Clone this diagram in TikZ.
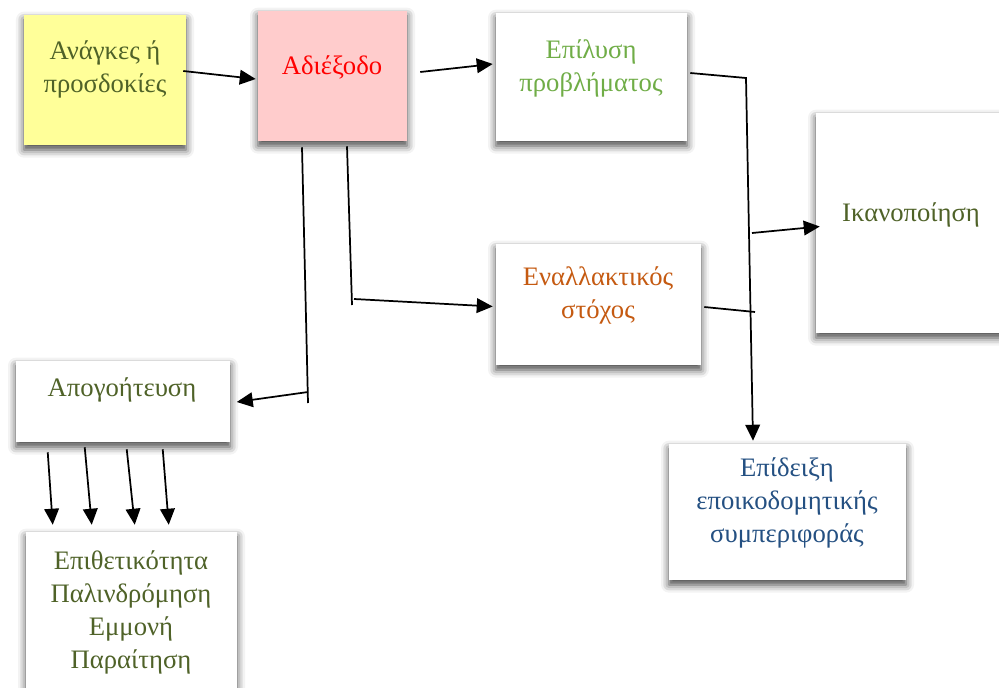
\documentclass[tikz,border=0pt]{standalone}
\usepackage{fontspec}
\setmainfont{Liberation Serif}
\usetikzlibrary{arrows.meta, calc, shadows.blur}
\definecolor{verdeosc}{HTML}{4F6228}
\definecolor{verdecl}{HTML}{70AD47}
\definecolor{naranja}{HTML}{C55A11}
\definecolor{azulosc}{HTML}{245082}
\definecolor{amarillo}{HTML}{FFFF99}
\definecolor{rosa}{HTML}{FFCCCC}
\tikzset{
  caja/.style={rectangle, draw=none, fill=white, inner sep=0pt,
               blur shadow={shadow xshift=0pt, shadow yshift=-3.5pt, shadow blur radius=6pt, shadow opacity=75}},
  texto/.style={align=center, font=\fontsize{20}{24.75}\selectfont, text=verdeosc},
  linea/.style={line width=1.3pt, color=black},
  flecha/.style={line width=1.3pt, color=black, -{Triangle[length=12pt,width=11pt]}}
}

\begin{document}
\begin{tikzpicture}[x=0.75pt, y=-0.75pt]
  \useasboundingbox (0,0) rectangle (999,688);
  % cajas
  \node (anag) [caja, fill=amarillo, minimum width=121.5pt, minimum height=97.5pt] at (105,80) {};
  \node at (105,69) [texto] {Ανάγκες ή\\ προσδοκίες};
  \node (adi) [caja, fill=rosa, minimum width=111.75pt, minimum height=97.5pt] at (332.5,76) {};
  \node at (332,67) [texto, text=red] {Αδιέξοδο};
  \node (epil) [caja, minimum width=143.25pt, minimum height=96pt] at (591.5,77) {};
  \node at (591,68) [texto, text=verdecl] {Επίλυση\\ προβλήματος};
  \node (enal) [caja, minimum width=153.75pt, minimum height=90.75pt] at (598.5,304.5) {};
  \node at (598,295) [texto, text=naranja] {Εναλλακτικός\\ στόχος};
  \node (ikan) [caja, minimum width=141.75pt, minimum height=165pt] at (910.5,223) {};
  \node at (911,215) [texto] {Ικανοποίηση};
  \node (epid) [caja, minimum width=177.75pt, minimum height=102pt] at (787.5,512) {};
  \node at (787,503) [texto, text=azulosc] {Επίδειξη\\ εποικοδομητικής\\ συμπεριφοράς};
  \node (apog) [caja, minimum width=160.5pt, minimum height=60.75pt] at (123,401.5) {};
  \node at (122,390) [texto] {Απογοήτευση};
  \node (epit) [caja, minimum width=158.25pt, minimum height=126pt] at (131.5,616) {};
  \node at (131,612) [texto] {Επιθετικότητα\\ Παλινδρόμηση\\ Εμμονή\\ Παραίτηση};
  % puntos de quiebre
  \coordinate (q1) at (746,78);
  \coordinate (q2) at (755,312);
  \coordinate (q3) at (752,233);
  \coordinate (q4) at (308,403);
  \coordinate (q5) at (308,392);
  \coordinate (q6) at (352,305);
  \coordinate (q7) at (354,299);
  % conectores
  \draw [flecha] ($(anag.east)+(-3,-9)$) -- ($(adi.west)+(-2,3)$);
  \draw [flecha] ($(adi.east)+(13,-4)$) -- ($(epil.west)+(-3,-13)$);
  \draw [flecha] ($(epil.east)+(3,-4)$) -- (q1) -- ($(epid.north)+(-34.5,-3)$);
  \draw [linea] ($(enal.east)+(3,2.5)$) -- (q2);
  \draw [flecha] (q3) -- ($(ikan.west)+(4,3.5)$);
  \draw [linea] ($(adi.south)+(-30.5,6)$) -- (q4);
  \draw [flecha] (q5) -- ($(apog.east)+(6.5,0.5)$);
  \draw [linea] ($(adi.south)+(14.5,5)$) -- (q6);
  \draw [flecha] (q7) -- ($(enal.west)+(-3,2)$);
  \foreach \a/\b/\c/\d in {32/10/27/-7, 69/5/66/-7, 111/7/109/-7, 147/7/143/-7}
    \draw [flecha] ($(apog.south west)+(\a,\b)$) -- ($(epit.north west)+(\c,\d)$);
\end{tikzpicture}
\end{document}
